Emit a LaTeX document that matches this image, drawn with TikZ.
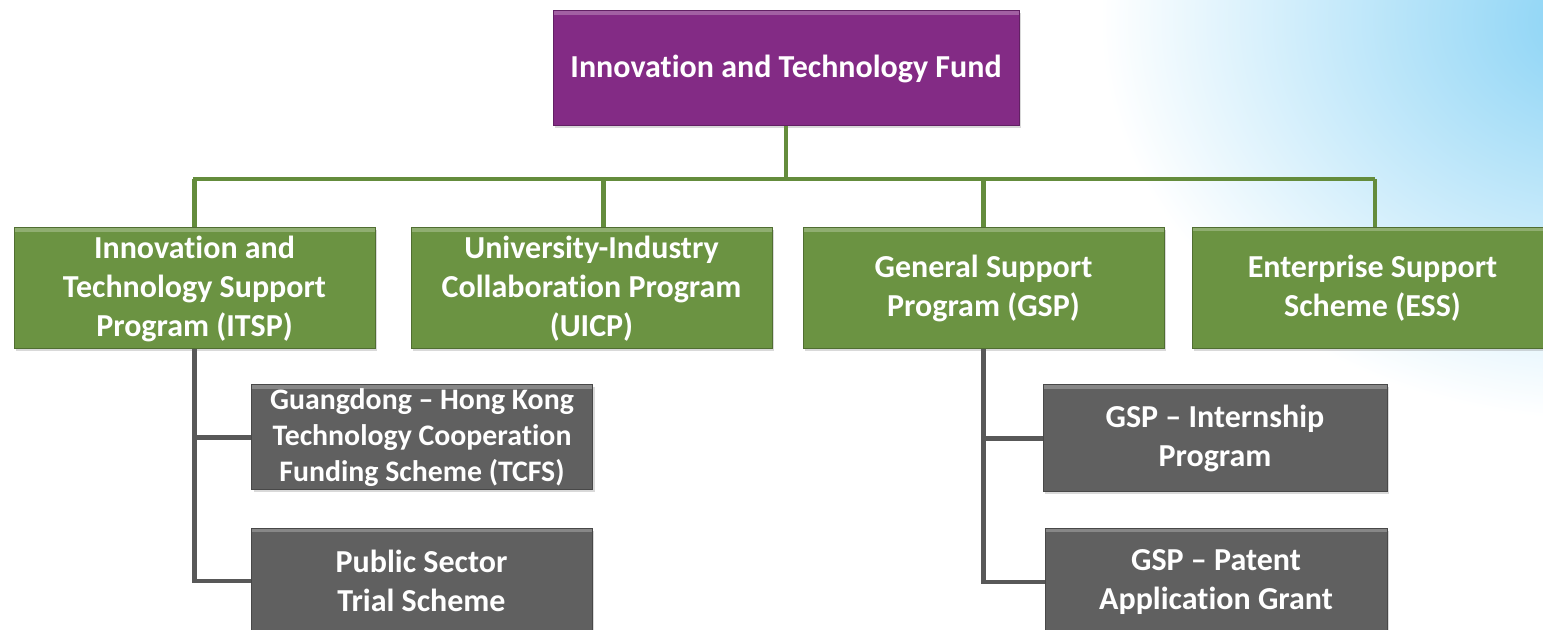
\documentclass[tikz,border=0pt]{standalone}
\usepackage{fontspec}
\setmainfont{Carlito}[Ligatures={TeX,CommonOff}]
\usepackage{xcolor}
\usepackage{tikz}
\usetikzlibrary{positioning,shadows}

\definecolor{fundpurple}{RGB}{131,43,133}
\definecolor{progreen}{RGB}{107,147,66}
\definecolor{schemegray}{RGB}{96,96,96}
\definecolor{linegreen}{RGB}{100,140,60}
\definecolor{linegray}{RGB}{88,88,88}
\definecolor{skyblue}{RGB}{135,210,245}

\begin{document}
\begin{tikzpicture}[x=0.5pt,y=-0.5pt,
       box/.style={fill=#1, draw=#1!75!black, line width=0.5pt, text=white,
         font=\fontsize{16}{19.5}\selectfont\bfseries, align=center, inner sep=0pt,
         drop shadow={shadow xshift=1.2pt,shadow yshift=-1.2pt,opacity=0.3},
         path picture={\fill[white,opacity=0.25] (path picture bounding box.north west)
           rectangle ([yshift=-2pt]path picture bounding box.north east);}},
       greenline/.style={draw=linegreen, line width=2.2pt},
       grayline/.style={draw=linegray, line width=2.4pt}]
       \useasboundingbox (0,0) rectangle (1543,630);
       
       \begin{scope}
       \clip (0,0) rectangle (1543,630);
       \shade[inner color=skyblue, outer color=white] (1600,20) ellipse (500 and 400);
       \end{scope}
       
       \node[box=fundpurple, minimum width=233pt, minimum height=57.5pt] (fund) at (786,68.5) {Innovation and Technology Fund};
       
       \node[box=progreen, minimum width=180.5pt, minimum height=60.5pt] (itsp) at (194.5,288.5) {Innovation and\\Technology Support\\Program (ITSP)};
       \node[box=progreen, minimum width=180.5pt, minimum height=60.5pt] (uicp) at (591.5,288.5) {University-Industry\\Collaboration Program\\(UICP)};
       \node[box=progreen, minimum width=180.5pt, minimum height=60.5pt] (gsp) at (983.5,288.5) {General Support\\Program (GSP)};
       \node[box=progreen, minimum width=180.5pt, minimum height=60.5pt] (ess) at (1372.5,288) {Enterprise Support\\Scheme (ESS)};
       
       \node[box=schemegray, minimum width=170.5pt, minimum height=52.5pt, font=\fontsize{14.9}{17.8}\selectfont\bfseries] (tcfs) at (422,437.5) {Guangdong -- Hong Kong\\Technology Cooperation\\Funding Scheme (TCFS)};
       \node[box=schemegray, minimum width=170.5pt, minimum height=52.5pt] (trial) at (421.5,581) {Public Sector\\Trial Scheme};
       \node[box=schemegray, minimum width=172pt, minimum height=53.5pt] (intern) at (1215,438.5) {GSP -- Internship\\Program};
       \node[box=schemegray, minimum width=171pt, minimum height=53.5pt] (patent) at (1216,582) {GSP -- Patent\\Application Grant};
       
       \coordinate (busL) at (193,179);
       \coordinate (busR) at (1375,179);
       \draw[greenline] (busL) -- (busR);
       \draw[greenline] (fund.south) -- (fund.south |- busL);
       \draw[greenline] (itsp.north) -- (itsp.north |- busL);
       \draw[greenline] ([xshift=6pt]uicp.north) -- ([xshift=6pt]uicp.north |- busL);
       \draw[greenline] (gsp.north) -- (gsp.north |- busL);
       \draw[greenline] ([xshift=1.3pt]ess.north) -- ([xshift=1.3pt]ess.north |- busR);
       
       \draw[grayline] (itsp.south) |- (trial.west);
       \draw[grayline] (itsp.south |- tcfs.west) -- (tcfs.west);
       \draw[grayline] (gsp.south) |- (patent.west);
       \draw[grayline] (gsp.south |- intern.west) -- (intern.west);
\end{tikzpicture}
\end{document}
